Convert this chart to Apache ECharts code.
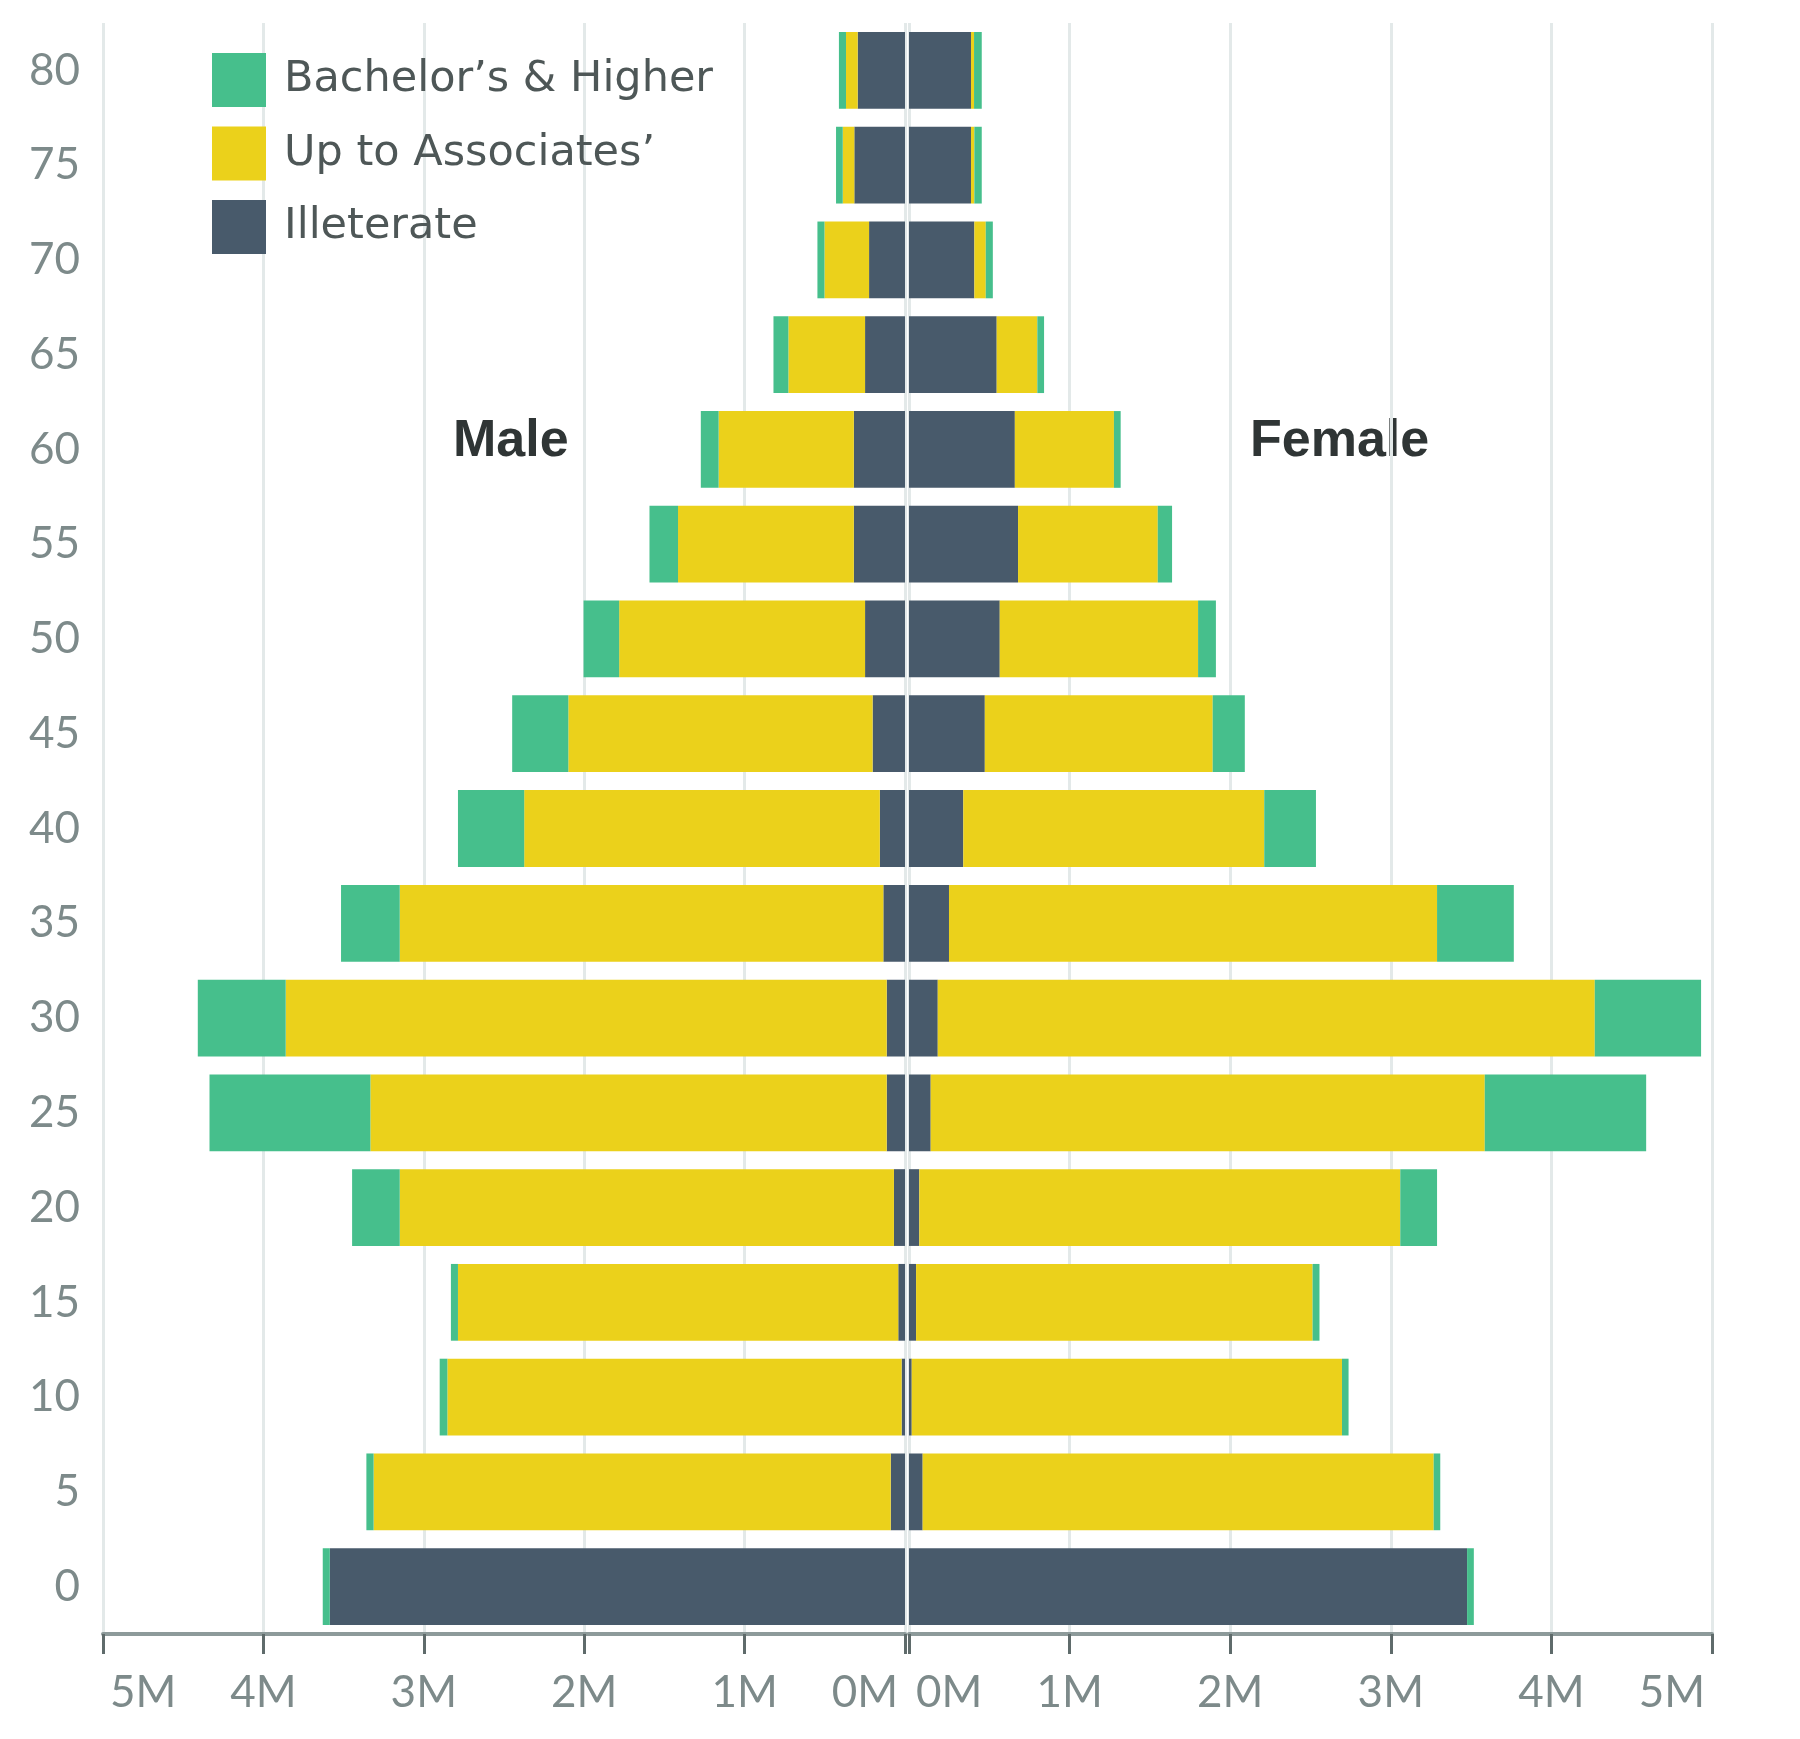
<!DOCTYPE html>
<html>
<head>
<meta charset="utf-8">
<style>
  html, body { margin: 0; padding: 0; background: #ffffff; }
  #chart { width: 1800px; height: 1739px; }
</style>
<script src="https://cdn.jsdelivr.net/npm/echarts@6/dist/echarts.min.js"></script>
</head>
<body>
<div id="chart"></div>
<script>
// Age groups (bottom to top)
const ages = ['0','5','10','15','20','25','30','35','40','45','50','55','60','65','70','75','80'];
// Values in millions
const maleIlliterate   = [3.586, 0.089, 0.021, 0.042, 0.069, 0.114, 0.114, 0.135, 0.157, 0.202, 0.249, 0.319, 0.319, 0.249, 0.224, 0.316, 0.295];
const maleAssociates   = [0,     3.224, 2.832, 2.745, 3.081, 3.219, 3.747, 3.015, 2.217, 1.897, 1.533, 1.096, 0.843, 0.478, 0.278, 0.072, 0.073];
const maleBachelors    = [0.044, 0.045, 0.048, 0.044, 0.297, 1.003, 0.548, 0.366, 0.413, 0.350, 0.222, 0.178, 0.111, 0.093, 0.044, 0.042, 0.044];
const femaleIlliterate = [3.475, 0.085, 0.017, 0.044, 0.064, 0.135, 0.179, 0.249, 0.338, 0.472, 0.565, 0.679, 0.659, 0.546, 0.407, 0.386, 0.386];
const femaleAssociates = [0,     3.182, 2.679, 2.469, 2.995, 3.450, 4.091, 3.039, 1.874, 1.419, 1.235, 0.870, 0.617, 0.253, 0.071, 0.021, 0.019];
const femaleBachelors  = [0.042, 0.041, 0.041, 0.043, 0.229, 1.005, 0.662, 0.478, 0.322, 0.200, 0.111, 0.089, 0.042, 0.042, 0.044, 0.046, 0.048];
const xTickLabels = ['0M','1M','2M','3M','4M','5M'];
const seriesNames = ['Bachelor\u2019s & Higher', 'Up to Associates\u2019', 'Illeterate'];

const C_GREEN = '#46bf8c', C_YELLOW = '#ebd11b', C_DARK = '#485a6b';
const FONT = 'Lato, "Open Sans", sans-serif';
const LEGEND_FONT = '"DejaVu Sans", Lato, sans-serif';
const LABEL_COLOR = '#7d8a8a';

const chart = echarts.init(document.getElementById('chart'), null, { renderer: 'canvas' });

function xAxisCfg(gridIndex, inverse) {
  return {
    type: 'value', gridIndex: gridIndex, inverse: inverse,
    min: 0, max: 5, interval: 1,
    axisLine: { show: true, lineStyle: { color: '#8d9a9a', width: 4 } },
    axisTick: { show: true, length: 20, lineStyle: { color: '#5f6b6b', width: 3 } },
    splitLine: { show: true, lineStyle: { color: '#e3e9e9', width: 3 } },
    axisLabel: {
      show: true, margin: 37, fontSize: 44, fontFamily: FONT, color: LABEL_COLOR,
      formatter: function (v) { return xTickLabels[Math.round(v)]; },
      alignMinLabel: inverse ? 'right' : 'left',
      alignMaxLabel: inverse ? 'left' : 'right',
      padding: [0, 7, 0, 7]
    }
  };
}
function yAxisCfg(gridIndex, showLabels) {
  return {
    type: 'category', gridIndex: gridIndex, data: ages,
    axisLine: { show: false }, axisTick: { show: false }, splitLine: { show: false },
    axisLabel: { show: showLabels, margin: 23, fontSize: 44, fontFamily: FONT, color: LABEL_COLOR, padding: [9, 0, 0, 0] }
  };
}
function barSeries(name, data, color, idx, stack) {
  return {
    type: 'bar', name: name, data: data, stack: stack,
    xAxisIndex: idx, yAxisIndex: idx,
    barCategoryGap: '19%',
    itemStyle: { color: color },
    emphasis: { disabled: true },
    animation: false
  };
}

const option = {
  backgroundColor: '#ffffff',
  animation: false,
  grid: [
    { left: 103, width: 802, top: 23, height: 1611, containLabel: false },
    { left: 909, width: 803, top: 23, height: 1611, containLabel: false }
  ],
  xAxis: [xAxisCfg(0, true), xAxisCfg(1, false)],
  yAxis: [yAxisCfg(0, true), yAxisCfg(1, false)],
  legend: {
    data: seriesNames,
    orient: 'vertical', left: 207, top: 48,
    itemWidth: 54, itemHeight: 54, itemGap: 19.5,
    icon: 'rect', selectedMode: false,
    textStyle: { fontSize: 43, fontFamily: LEGEND_FONT, color: '#4e5757', padding: [0, 0, 0, 13] }
  },
  graphic: [
    { type: 'text', left: 453, top: 416, style: { text: 'Male', font: 'bold 52px "Liberation Sans", Arial, sans-serif', fill: '#2f3535' } },
    { type: 'text', left: 1250, top: 416, style: { text: 'Female', font: 'bold 52px "Liberation Sans", Arial, sans-serif', fill: '#2f3535' } }
  ],
  series: [
    barSeries(seriesNames[2], maleIlliterate, C_DARK, 0, 'male'),
    barSeries(seriesNames[1], maleAssociates, C_YELLOW, 0, 'male'),
    barSeries(seriesNames[0], maleBachelors, C_GREEN, 0, 'male'),
    barSeries(seriesNames[2], femaleIlliterate, C_DARK, 1, 'female'),
    barSeries(seriesNames[1], femaleAssociates, C_YELLOW, 1, 'female'),
    barSeries(seriesNames[0], femaleBachelors, C_GREEN, 1, 'female')
  ]
};
chart.setOption(option);
</script>
</body>
</html>
